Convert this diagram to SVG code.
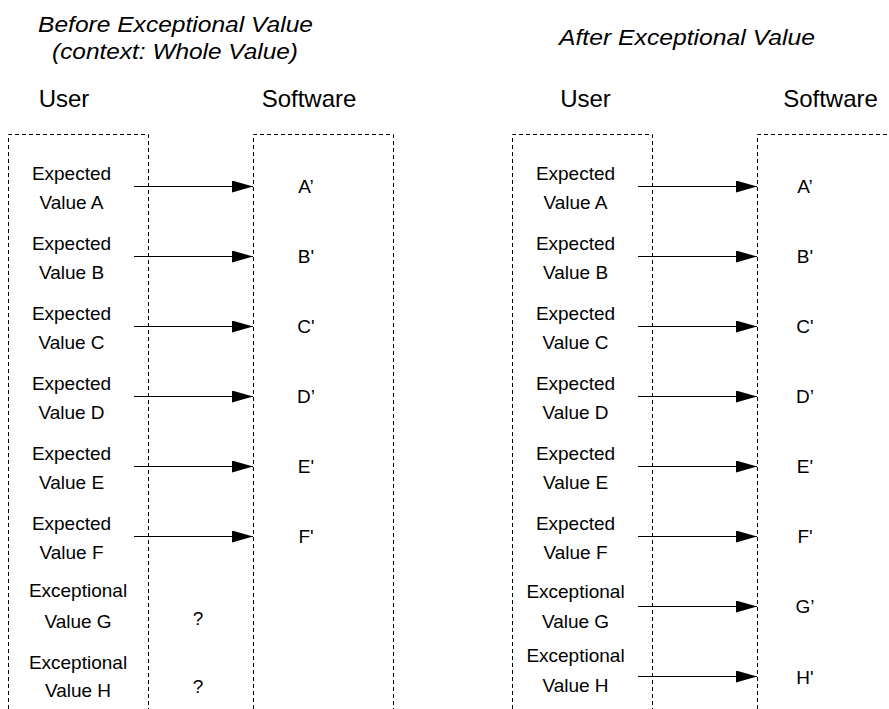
<svg xmlns="http://www.w3.org/2000/svg" width="889" height="709" viewBox="0 0 889 709">
  <style>
    text { font-family: "Liberation Sans", Arial, sans-serif; fill: #000; }
    .title { font-size: 22px; font-style: italic; text-anchor: middle; }
    .head { font-size: 24px; text-anchor: middle; }
    .lbl { font-size: 19px; text-anchor: middle; }
    .lane { fill: none; stroke: #000; stroke-width: 1; stroke-dasharray: 4 3; }
    .flow { stroke: #000; stroke-width: 1; fill: none; marker-end: url(#arrow); }
  </style>
  <defs>
    <marker id="arrow" markerUnits="userSpaceOnUse" markerWidth="21" markerHeight="12" refX="21" refY="6" orient="auto">
      <path d="M0,0 L21,6 L0,12 Z" fill="#000"/>
    </marker>
  </defs>
  <rect width="889" height="709" fill="#fff"/>

  <!-- headings -->
  <g id="title-before">
    <text class="title" x="175.5" y="32" textLength="275" lengthAdjust="spacingAndGlyphs">Before Exceptional Value</text>
    <text class="title" x="175" y="59" textLength="246" lengthAdjust="spacingAndGlyphs">(context: Whole Value)</text>
  </g>
  <g id="title-after">
    <text class="title" x="687" y="45" textLength="256" lengthAdjust="spacingAndGlyphs">After Exceptional Value</text>
  </g>

  <!-- swimlanes: before -->
  <g id="lane-user-before">
    <text class="head" x="64" y="107">User</text>
    <path class="lane" d="M8.5,709 V134.5 H148.5 V709"/>
  </g>
  <g id="lane-software-before">
    <text class="head" x="309" y="107">Software</text>
    <path class="lane" d="M253.5,709 V134.5 H393.5 V709"/>
  </g>
  <!-- swimlanes: after -->
  <g id="lane-user-after">
    <text class="head" x="585.5" y="107">User</text>
    <path class="lane" d="M512.5,709 V134.5 H652.5 V709"/>
  </g>
  <g id="lane-software-after">
    <text class="head" x="830.5" y="107">Software</text>
    <path class="lane" d="M757.5,709 V134.5 H889"/>
  </g>

  <!-- before: user values -->
  <g id="b-in-a"><text class="lbl" x="71.5" y="180">Expected</text><text class="lbl" x="71.5" y="209">Value A</text></g>
  <g id="b-in-b"><text class="lbl" x="71.5" y="250">Expected</text><text class="lbl" x="71.5" y="279">Value B</text></g>
  <g id="b-in-c"><text class="lbl" x="71.5" y="320">Expected</text><text class="lbl" x="71.5" y="349">Value C</text></g>
  <g id="b-in-d"><text class="lbl" x="71.5" y="390">Expected</text><text class="lbl" x="71.5" y="419">Value D</text></g>
  <g id="b-in-e"><text class="lbl" x="71.5" y="460">Expected</text><text class="lbl" x="71.5" y="489">Value E</text></g>
  <g id="b-in-f"><text class="lbl" x="71.5" y="530">Expected</text><text class="lbl" x="71.5" y="559">Value F</text></g>
  <g id="b-in-g"><text class="lbl" x="78" y="597">Exceptional</text><text class="lbl" x="78" y="628">Value G</text></g>
  <g id="b-in-h"><text class="lbl" x="78" y="669">Exceptional</text><text class="lbl" x="78" y="697">Value H</text></g>

  <!-- before: software results -->
  <g id="b-out-a"><text class="lbl" x="306" y="193">A’</text></g>
  <g id="b-out-b"><text class="lbl" x="306" y="263">B'</text></g>
  <g id="b-out-c"><text class="lbl" x="306" y="333">C'</text></g>
  <g id="b-out-d"><text class="lbl" x="306" y="403">D’</text></g>
  <g id="b-out-e"><text class="lbl" x="306" y="473">E'</text></g>
  <g id="b-out-f"><text class="lbl" x="306" y="543">F'</text></g>
  <g id="b-unknown-g"><text class="lbl" x="198" y="625">?</text></g>
  <g id="b-unknown-h"><text class="lbl" x="198" y="693">?</text></g>

  <!-- after: user values -->
  <g id="a-in-a"><text class="lbl" x="575.5" y="180">Expected</text><text class="lbl" x="575.5" y="209">Value A</text></g>
  <g id="a-in-b"><text class="lbl" x="575.5" y="250">Expected</text><text class="lbl" x="575.5" y="279">Value B</text></g>
  <g id="a-in-c"><text class="lbl" x="575.5" y="320">Expected</text><text class="lbl" x="575.5" y="349">Value C</text></g>
  <g id="a-in-d"><text class="lbl" x="575.5" y="390">Expected</text><text class="lbl" x="575.5" y="419">Value D</text></g>
  <g id="a-in-e"><text class="lbl" x="575.5" y="460">Expected</text><text class="lbl" x="575.5" y="489">Value E</text></g>
  <g id="a-in-f"><text class="lbl" x="575.5" y="530">Expected</text><text class="lbl" x="575.5" y="559">Value F</text></g>
  <g id="a-in-g"><text class="lbl" x="575.5" y="598">Exceptional</text><text class="lbl" x="575.5" y="628">Value G</text></g>
  <g id="a-in-h"><text class="lbl" x="575.5" y="662">Exceptional</text><text class="lbl" x="575.5" y="692">Value H</text></g>

  <!-- after: software results -->
  <g id="a-out-a"><text class="lbl" x="805" y="193">A’</text></g>
  <g id="a-out-b"><text class="lbl" x="805" y="263">B'</text></g>
  <g id="a-out-c"><text class="lbl" x="805" y="333">C'</text></g>
  <g id="a-out-d"><text class="lbl" x="805" y="403">D’</text></g>
  <g id="a-out-e"><text class="lbl" x="805" y="473">E'</text></g>
  <g id="a-out-f"><text class="lbl" x="805" y="543">F'</text></g>
  <g id="a-out-g"><text class="lbl" x="805" y="613">G’</text></g>
  <g id="a-out-h"><text class="lbl" x="805" y="684">H'</text></g>

  <!-- value flows from user to software -->
  <g id="connectors">
    <line class="flow" x1="134" y1="186.5" x2="253" y2="186.5"/>
    <line class="flow" x1="134" y1="256.5" x2="253" y2="256.5"/>
    <line class="flow" x1="134" y1="326.5" x2="253" y2="326.5"/>
    <line class="flow" x1="134" y1="396.5" x2="253" y2="396.5"/>
    <line class="flow" x1="134" y1="466.5" x2="253" y2="466.5"/>
    <line class="flow" x1="134" y1="536.5" x2="253" y2="536.5"/>

    <line class="flow" x1="638" y1="186.5" x2="757" y2="186.5"/>
    <line class="flow" x1="638" y1="256.5" x2="757" y2="256.5"/>
    <line class="flow" x1="638" y1="326.5" x2="757" y2="326.5"/>
    <line class="flow" x1="638" y1="396.5" x2="757" y2="396.5"/>
    <line class="flow" x1="638" y1="466.5" x2="757" y2="466.5"/>
    <line class="flow" x1="638" y1="536.5" x2="757" y2="536.5"/>
    <line class="flow" x1="638" y1="606.5" x2="757" y2="606.5"/>
    <line class="flow" x1="638" y1="676.5" x2="757" y2="676.5"/>
  </g>
</svg>
